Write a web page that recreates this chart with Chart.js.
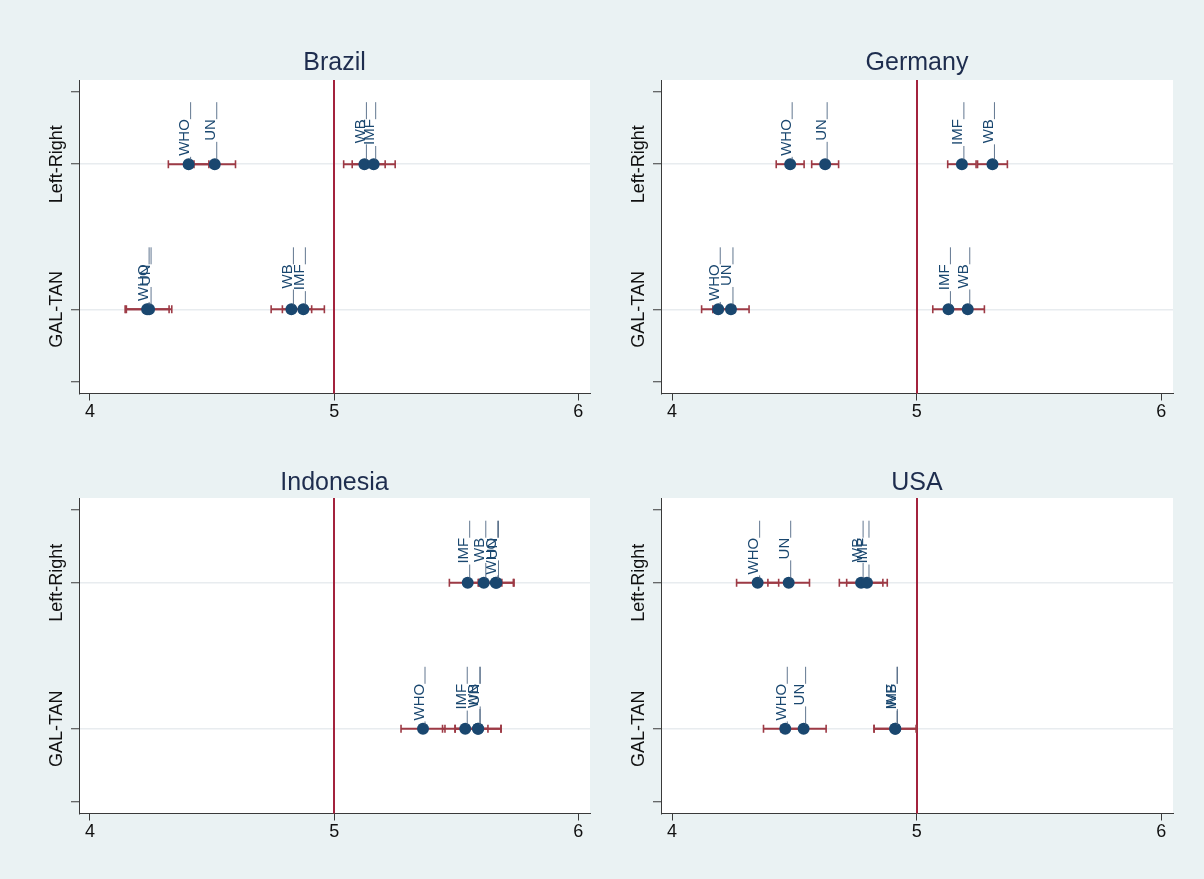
<!DOCTYPE html>
<html>
<head>
<meta charset="utf-8">
<script src="https://cdn.jsdelivr.net/npm/chart.js@4.4.1/dist/chart.umd.min.js"></script>
<style>
  html, body { margin: 0; padding: 0; background: #eaf2f3; }
  #wrap { position: relative; width: 1204px; height: 879px; background: #eaf2f3; overflow: hidden; }
  canvas { position: absolute; }
</style>
</head>
<body>
<div id="wrap">
  <canvas id="c0" width="602" height="410" style="left:0px;top:30px"></canvas>
  <canvas id="c1" width="602" height="410" style="left:582px;top:30px"></canvas>
  <canvas id="c2" width="602" height="410" style="left:0px;top:450px"></canvas>
  <canvas id="c3" width="602" height="410" style="left:582px;top:450px"></canvas>
</div>
<script>
// ---------------- DATA ----------------
const orgs = ['WHO', 'UN', 'IMF', 'WB'];
const dimNames = ['GAL-TAN', 'Left-Right'];   // y = 1, y = 2
const dimValues = [1, 2];
const xTicks = [4, 5, 6];
const xTickLabels = ['4', '5', '6'];
const yTicks = [0.5, 1, 2, 2.5];
const refLine = 5;

const countries = ['Brazil', 'Germany', 'Indonesia', 'USA'];

// order: WHO, UN, IMF, WB
const brazil_LR    = [4.404, 4.511, 5.162, 5.124];
const brazil_LR_lo = [4.321, 4.426, 5.074, 5.039];
const brazil_LR_hi = [4.487, 4.596, 5.250, 5.209];
const brazil_GT    = [4.234, 4.242, 4.874, 4.825];
const brazil_GT_lo = [4.144, 4.149, 4.788, 4.742];
const brazil_GT_hi = [4.324, 4.335, 4.960, 4.908];

const germany_LR    = [4.483, 4.626, 5.185, 5.310];
const germany_LR_lo = [4.426, 4.571, 5.127, 5.249];
const germany_LR_hi = [4.540, 4.681, 5.243, 5.371];
const germany_GT    = [4.189, 4.241, 5.130, 5.209];
const germany_GT_lo = [4.121, 4.167, 5.066, 5.141];
const germany_GT_hi = [4.257, 4.315, 5.194, 5.277];

const indonesia_LR    = [5.662, 5.665, 5.547, 5.613];
const indonesia_LR_lo = [5.590, 5.593, 5.472, 5.539];
const indonesia_LR_hi = [5.734, 5.737, 5.622, 5.687];
const indonesia_GT    = [5.364, 5.590, 5.537, 5.589];
const indonesia_GT_lo = [5.274, 5.496, 5.444, 5.495];
const indonesia_GT_hi = [5.454, 5.684, 5.630, 5.683];

const usa_LR    = [4.350, 4.477, 4.797, 4.773];
const usa_LR_lo = [4.264, 4.392, 4.714, 4.684];
const usa_LR_hi = [4.436, 4.562, 4.880, 4.862];
const usa_GT    = [4.463, 4.538, 4.912, 4.913];
const usa_GT_lo = [4.374, 4.446, 4.826, 4.826];
const usa_GT_hi = [4.552, 4.630, 4.998, 5.000];

const panelData = [
  { gt: brazil_GT, gtLo: brazil_GT_lo, gtHi: brazil_GT_hi, lr: brazil_LR, lrLo: brazil_LR_lo, lrHi: brazil_LR_hi },
  { gt: germany_GT, gtLo: germany_GT_lo, gtHi: germany_GT_hi, lr: germany_LR, lrLo: germany_LR_lo, lrHi: germany_LR_hi },
  { gt: indonesia_GT, gtLo: indonesia_GT_lo, gtHi: indonesia_GT_hi, lr: indonesia_LR, lrLo: indonesia_LR_lo, lrHi: indonesia_LR_hi },
  { gt: usa_GT, gtLo: usa_GT_lo, gtHi: usa_GT_hi, lr: usa_LR, lrLo: usa_LR_lo, lrHi: usa_LR_hi }
];

// ---------------- STYLE ----------------
const FONT = '"Liberation Sans", Arial, Helvetica, sans-serif';
const NAVY = '#1a476f';
const BAR = '#9d3a45';
const REF = '#a3233d';
const AXIS = '#3a3a3a';

const overlay = {
  id: 'overlay',
  beforeDatasetsDraw(chart) {
    const { ctx, chartArea, scales: { x } } = chart;
    ctx.save();
    // reference line
    const xr = Math.round(x.getPixelForValue(refLine));
    ctx.strokeStyle = REF;
    ctx.lineWidth = 2;
    ctx.beginPath();
    ctx.moveTo(xr, chartArea.top);
    ctx.lineTo(xr, chartArea.bottom);
    ctx.stroke();
    // error bars
    ctx.strokeStyle = BAR;
    chart.data.datasets.forEach((ds) => {
      ds.data.forEach((p) => {
        const y = chart.scales.y.getPixelForValue(p.y);
        const x0 = x.getPixelForValue(p.lo);
        const x1 = x.getPixelForValue(p.hi);
        ctx.lineWidth = 2;
        ctx.beginPath();
        ctx.moveTo(x0, y); ctx.lineTo(x1, y);
        ctx.stroke();
        ctx.lineWidth = 1.6;
        ctx.beginPath();
        ctx.moveTo(x0, y - 4); ctx.lineTo(x0, y + 4);
        ctx.moveTo(x1, y - 4); ctx.lineTo(x1, y + 4);
        ctx.stroke();
      });
    });
    ctx.restore();
  },
  afterDatasetsDraw(chart) {
    const { ctx, scales: { x, y } } = chart;
    ctx.save();
    ctx.font = '15px ' + FONT;
    chart.data.datasets.forEach((ds) => {
      ds.data.forEach((p) => {
        const px = x.getPixelForValue(p.x);
        const py = y.getPixelForValue(p.y);
        const top = py - 62;
        const w = ctx.measureText(ds.label).width;
        const textTop = top + 17;
        const textBottom = textTop + w;
        ctx.strokeStyle = 'rgba(70,95,125,0.85)';
        ctx.lineWidth = 1;
        ctx.beginPath();
        ctx.moveTo(px + 2, top); ctx.lineTo(px + 2, textTop);
        ctx.moveTo(px + 2, textBottom + 1); ctx.lineTo(px + 2, py - 4);
        ctx.stroke();
        ctx.save();
        ctx.translate(px + 0.5, textBottom);
        ctx.rotate(-Math.PI / 2);
        ctx.fillStyle = NAVY;
        ctx.textAlign = 'left';
        ctx.textBaseline = 'alphabetic';
        ctx.fillText(ds.label, 0, 0);
        ctx.restore();
      });
    });
    // y category labels
    ctx.font = '18px ' + FONT;
    ctx.fillStyle = '#111';
    dimValues.forEach((v, i) => {
      const py = y.getPixelForValue(v);
      ctx.save();
      ctx.translate(y.left + 57, py);
      ctx.rotate(-Math.PI / 2);
      ctx.textAlign = 'center';
      ctx.textBaseline = 'middle';
      ctx.fillText(dimNames[i], 0, 0);
      ctx.restore();
    });
    ctx.restore();
  }
};

function makeChart(idx) {
  const d = panelData[idx];
  const topRow = idx < 2;
  const datasets = orgs.map((org, i) => ({
    label: org,
    data: [
      { x: d.lr[i], y: dimValues[1], lo: d.lrLo[i], hi: d.lrHi[i] },
      { x: d.gt[i], y: dimValues[0], lo: d.gtLo[i], hi: d.gtHi[i] }
    ],
    pointRadius: 6,
    pointHoverRadius: 6,
    pointBackgroundColor: NAVY,
    pointBorderColor: NAVY,
    pointBorderWidth: 0,
    showLine: false
  }));
  return new Chart(document.getElementById('c' + idx), {
    type: 'scatter',
    data: { datasets },
    options: {
      responsive: false,
      animation: false,
      devicePixelRatio: 1,
      layout: { padding: { left: 0, right: (idx % 2 === 0) ? 12 : 11, top: 0, bottom: 0 } },
      plugins: {
        legend: { display: false },
        tooltip: { enabled: false },
        title: {
          display: true,
          text: countries[idx],
          fullSize: false,
          color: '#1e2d4e',
          font: { family: FONT, size: 25, weight: 'normal', lineHeight: 1.2 },
          padding: { top: 18, bottom: topRow ? 2 : 0 }
        }
      },
      scales: {
        x: {
          type: 'linear',
          min: 3.955,
          max: 6.048,
          afterBuildTicks: (s) => { s.ticks = xTicks.map(v => ({ value: v })); },
          afterFit: (s) => { s.height = 46.5; },
          grid: { drawOnChartArea: false, drawTicks: true, tickLength: 7, tickColor: AXIS, tickWidth: 1 },
          border: { display: true, color: AXIS, width: 1 },
          ticks: {
            color: '#111',
            font: { family: FONT, size: 18 },
            padding: 1,
            maxRotation: 0,
            autoSkip: false,
            callback: (v, i) => xTickLabels[i]
          }
        },
        y: {
          type: 'linear',
          min: 0.42,
          max: 2.58,
          afterBuildTicks: (s) => { s.ticks = yTicks.map(v => ({ value: v })); },
          afterFit: (s) => { s.width = 79; },
          grid: {
            drawOnChartArea: true,
            drawTicks: true,
            tickLength: 8,
            tickColor: AXIS,
            tickWidth: 1,
            lineWidth: 1.5,
            color: (c) => (c.tick && (c.tick.value === 1 || c.tick.value === 2)) ? '#e8ecef' : 'rgba(0,0,0,0)'
          },
          border: { display: true, color: AXIS, width: 1 },
          ticks: { display: false }
        }
      }
    },
    plugins: [overlay]
  });
}

// white plot backgrounds
Chart.register({
  id: 'plotBg',
  beforeDraw(chart) {
    const { ctx, chartArea } = chart;
    ctx.save();
    ctx.fillStyle = '#ffffff';
    ctx.fillRect(chartArea.left, chartArea.top, chartArea.right - chartArea.left, chartArea.bottom - chartArea.top);
    ctx.restore();
  }
});

[0, 1, 2, 3].forEach(makeChart);
</script>
</body>
</html>
